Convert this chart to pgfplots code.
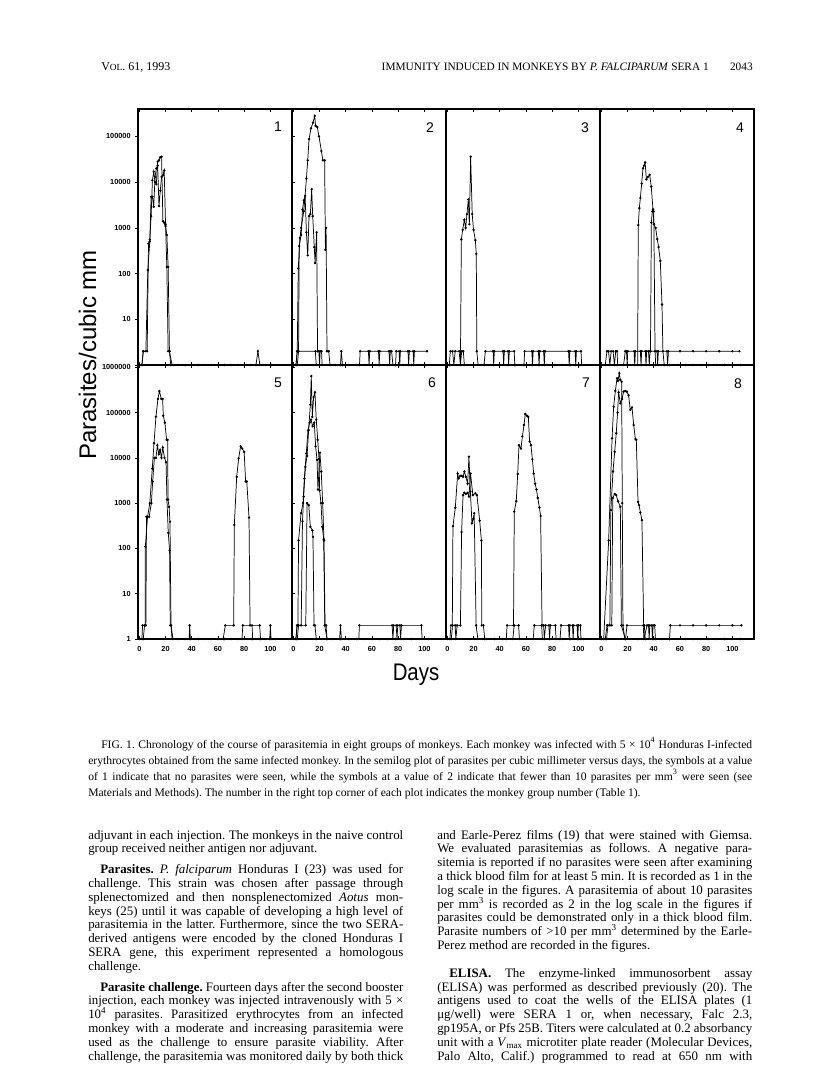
\documentclass[border=0pt]{standalone}
\usepackage{fontspec}
\setmainfont{Liberation Serif}
\setsansfont{Liberation Sans}
\usepackage{graphicx}
\usepackage{pgfplots}
\pgfplotsset{compat=1.18}
\frenchspacing

\newcommand\tl[1]{\textsf{\bfseries\fontsize{5.5}{6}\selectfont #1}}
\newlength\tmpw
\newcommand\jl[2]{\settowidth\tmpw{#2}\ifdim\tmpw>#1\relax\resizebox{#1}{\height}{#2}\else\hbox to #1{#2}\fi}
\newcommand\body{\fontsize{9.7}{11}\selectfont}
\newcommand\capt{\fontsize{8.7}{10}\selectfont}

\pgfplotscreateplotcyclelist{mono}{black,mark=*,mark size=0.6pt,line width=0.55pt,mark options={solid,fill=black}\\}

\pgfplotsset{
  monkeypanel/.style={
    scale only axis, width=115.5pt, anchor=north west,
    xmin=-1, xmax=116.5, ymin=1,
    axis line style={line width=0.8pt},
    xtick={0,20,40,60,80,100}, xticklabels={},
    ytick={1,10,100,1000,10000,100000,1000000}, yticklabels={},
    xminorticks=false, yminorticks=false,
    tick align=inside, major tick length=2pt,
    tick style={black, line width=0.4pt},
    cycle list name=mono,
    xticklabel style={yshift=-2pt},
  },
  upperrow/.style={height=192pt, ymax=398107},
  lowerrow/.style={height=205.5pt, ymax=1122018,
    xticklabels={\tl{0},\tl{20},\tl{40},\tl{60},\tl{80},\tl{100}}},
}

\begin{document}
\begin{tikzpicture}
\path[use as bounding box] (0,0) rectangle (612pt,-810.75pt);

% ---------- row 1 ----------
\begin{semilogyaxis}[monkeypanel, upperrow, at={(103.5pt,-81.75pt)}, ytick align=outside,
  yticklabels={,\tl{10},\tl{100},\tl{1000},\tl{10000},\tl{100000}}]
\addplot coordinates {(0,1)(2,1)(3,2)(6,2)(7,450)(8,550)(9,1800)(10,11000)(11,17000)(12,10000)(13,9000)(14,28000)(15,30000)(16,35000)(17,36000)(18,1400)(19,1300)(20,1100)(21,700)(22,140)(23,2)(24,1)(26,1)(30,1)(35,1)(40,1)(45,1)(50,1)(55,1)(60,1)(65,1)(70,1)(75,1)(80,1)(85,1)(89,1)(90.5,2)(92,1)(96,1)(101,1)};
\addplot coordinates {(2,1)(3,2)(5,2)(6.5,120)(8,500)(9,4800)(10,4800)(11,2900)(12,13000)(13,20000)(14,23000)(15,3000)(16,6500)(17,13000)(18,14000)(19,18000)(20,1200)(21,140)(22,2)(23,2)(25,1)};
\end{semilogyaxis}

\begin{semilogyaxis}[monkeypanel, upperrow, at={(219pt,-81.75pt)}, ytick=\empty]
\addplot coordinates {(0,1)(2,1)(3,2)(3.8,130)(5,600)(6,1000)(8,2300)(10,12000)(11,30000)(12,87000)(13.5,150000)(15,200000)(16.3,280000)(17,170000)(18.3,160000)(19.6,100000)(21.4,48000)(22.6,30000)(23.9,30000)(24.5,330)(25,1000)(25.7,2)(27,2)(28,1)(32,1)(36,1)(36.6,2)(37.5,1)(42,1)(48,1)(54,1)(60,1)(66,1)(72,1)(78,1)(84,1)(90,1)(96,1)(101,1)};
\addplot coordinates {(3,1)(4,2)(4.5,400)(6,700)(7,2500)(8,4000)(9,5000)(10,800)(11,250)(12,1800)(13,2000)(14,7000)(14.8,1800)(16,380)(16.6,170)(17.8,800)(18.5,2)(19.5,2)(20,1)(20.5,2)(21.5,2)(22,1)};
\addplot coordinates {(2,1)(3,2)(16.8,2)(17.5,1)(50.5,1)(51,2)(57.3,2)(57.8,1)(58.3,2)(65,2)(65.5,1)(66,2)(73,2)(73.5,1)(74,2)(75,2)(76,1)(78,1)(78.5,2)(80.7,2)(81.2,1)(81.7,2)(87.5,2)(88,1)(88.5,2)(91.4,2)(91.9,1)(92.4,2)(102,2)};
\end{semilogyaxis}

\begin{semilogyaxis}[monkeypanel, upperrow, at={(334.5pt,-81.75pt)}, ytick=\empty]
\addplot coordinates {(0,1)(2,1)(10,1)(10.7,560)(11.7,900)(13,1500)(14,1000)(15,2000)(16,4200)(16.8,1200)(17.8,36000)(19,2000)(20,900)(21.4,540)(22.1,270)(22.5,2)(23.5,1)(28,1)(34,1)(40,1)(46,1)(52,1)(58,1)(64,1)(70,1)(76,1)(82,1)(88,1)(94,1)(101,1)};
\addplot coordinates {(1.5,1)(2.3,2)(4,2)(5,1)(6,2)(9,2)(10,1)(11,2)(12.2,2)(13,1)};
\addplot coordinates {(28,1)(29,2)(34.9,2)(35.4,1)(35.9,2)(42.5,2)(43,1)(43.5,2)(46.3,2)(46.8,1)(47.3,2)(51,2)(51.5,1)};
\addplot coordinates {(58.5,1)(59,2)(64.5,2)(65,1)(65.5,2)(69.5,2)(70,1)(70.5,2)(73.5,2)(74,1)(74.5,2)(92.5,2)(93,1)(93.5,2)(97.5,2)(98,1)(98.5,2)(102,2)(102.5,1)};
\end{semilogyaxis}

\begin{semilogyaxis}[monkeypanel, upperrow, at={(450pt,-81.75pt)}, ytick=\empty]
\addplot coordinates {(0,1)(10,1)(20,1)(27.7,1)(28.2,1150)(29,2700)(29.8,4500)(30.8,9300)(31.8,20000)(32.6,23000)(33.4,27000)(34.4,11500)(35.6,13000)(36.9,14500)(38.1,8000)(39.4,2550)(40.2,1200)(41.4,1000)(42.7,570)(43.7,380)(45,190)(46.3,21)(47,2)(48,1)(52,1)(58,1)(64,1)(70,1)(76,1)(82,1)(88,1)(94,1)(100,1)(106,1)};
\addplot coordinates {(3,1)(4.3,2)(5.5,2)(6.5,1)(7.5,2)(9,2)(10,1)(11,2)(12,2)(12.5,1)};
\addplot coordinates {(17,1)(18.3,2)(19.2,2)(19.7,1)(20.2,2)(25,2)(25.5,1)(26,2)(29.8,2)(30.3,1)(30.8,2)(33.6,2)(34.1,1)(34.6,2)(36,2)(36.6,1)(37.2,2)(42.5,2)(43,1)(43.5,2)(50,2)(50.6,1)(51.2,2)(60,2)(70,2)(80,2)(90,2)(100,2)(105.3,2)};
\addplot coordinates {(37.5,2)(38.2,1300)(38.9,2300)(40,2300)(41,2)(41.5,1)};
\end{semilogyaxis}

% ---------- row 2 ----------
\begin{semilogyaxis}[monkeypanel, lowerrow, at={(103.5pt,-273.75pt)}, ytick align=outside,
  yticklabels={\tl{1},\tl{10},\tl{100},\tl{1000},\tl{10000},\tl{100000},\tl{1000000}}]
\addplot coordinates {(0,1)(2,1)(2.5,2)(4.5,2)(4.6,110)(6.3,500)(8,1000)(9.9,5800)(11.2,21000)(12.7,81000)(14.2,200000)(15.3,297000)(16.8,200000)(17.8,200000)(18.3,85000)(19.5,60000)(20.8,25000)(21.6,25000)(21.9,1200)(22.7,830)(23.4,390)(24.2,2)(25.7,1)(30,1)(35,1)(38,1)(38.4,2)(39,1)(45,1)(50,1)(55,1)(60,1)(65,1)(70,1)(75,1)(80,1)(86,1)(92,1)(96,1)(99.5,1)(100,2)(100.5,1)(104,1)};
\addplot coordinates {(3,1)(4,2)(5,2)(5.5,500)(7.5,500)(9.2,1000)(10.2,3000)(11.5,10000)(12.7,10000)(13.8,19000)(14.9,12000)(15.9,15000)(16.9,10000)(17.9,17000)(19.2,10000)(20.4,8000)(21.1,1200)(22.1,220)(23.1,90)(23.6,2)(24.2,2)(25,1)};
\addplot coordinates {(64,1)(65.6,2)(72,2)(72.5,330)(74.3,3800)(75.8,9800)(77.3,18000)(78.5,16000)(80,13500)(81.1,3000)(82,3000)(83.7,480)(84.5,2)(91.8,2)(92.5,1)};
\addplot coordinates {(78.3,1)(79,2)(86,2)(86.5,1)};
\end{semilogyaxis}

\begin{semilogyaxis}[monkeypanel, lowerrow, at={(219pt,-273.75pt)}, ytick=\empty]
\addplot coordinates {(0,1)(2,1)(2.8,2)(6,2)(7,400)(7.9,1400)(9.2,6300)(10.5,11000)(11.7,41000)(13,150000)(13.7,640000)(14.5,80000)(15.5,220000)(16.5,280000)(17.5,70000)(18.6,25000)(19.6,9500)(20.1,1900)(21.1,1000)(22.1,300)(23.2,160)(24,2)(25.7,1)(30,1)(36,1)(42,1)(48,1)(54,1)(60,1)(66,1)(72,1)(78,1)(84,1)(90,1)(96,1)(103,1)};
\addplot coordinates {(2,1)(3,2)(3.5,2)(4,150)(5.9,600)(7.4,1000)(8.4,3500)(9.9,12600)(11.2,40000)(12.5,60000)(13.5,70000)(14.7,50000)(16,60000)(17,18000)(18.1,9000)(18.8,2000)(20.3,13000)(21.3,5000)(22.4,1000)(23.4,150)(24.2,2)(25,2)(25.7,1)(35.3,1)(36,2)(36.7,1)(50,1)(50.4,2)(75.4,2)(76,1)(76.6,2)(78.5,2)(79.1,1)(79.7,2)(81.3,2)(81.9,1)(82.5,2)(97.7,2)(98.3,1)};
\addplot coordinates {(3,1)(4,2)(9.5,2)(10.5,1000)(11.8,900)(13,300)(14.6,250)(15,180)(15.8,2)(16.5,2)(17.5,1)};
\end{semilogyaxis}

\begin{semilogyaxis}[monkeypanel, lowerrow, at={(334.5pt,-273.75pt)}, ytick=\empty]
\addplot coordinates {(0,1)(2,1)(2.8,2)(3.8,2)(4.3,310)(6.1,790)(7.9,4500)(8.6,3500)(9.9,4000)(10.9,4000)(12,3800)(13,5000)(14.2,3800)(15.5,2700)(16.5,10600)(17.6,1800)(18.8,360)(19.8,450)(20.5,600)(22,2)(23.3,1)(30,1)(36,1)(42,1)(45,1)(45.6,2)(50.5,2)(51.1,650)(52.6,1100)(53.7,4400)(54.7,19000)(56.2,16000)(57.3,30000)(58.5,53000)(59.5,93000)(60.8,85000)(61.8,80000)(62.8,23000)(63.8,19000)(64.9,9300)(65.9,4500)(67,2700)(68,2000)(69,1300)(70.3,800)(71.2,520)(72.3,2)(73.5,2)(74,1)(75,2)(77.5,2)(78,1)(78.6,2)(82.4,2)(83,1)(88,1)(94,1)(100,1)(104,1)};
\addplot coordinates {(3,1)(4,2)(6,2)(6.5,1)(7.5,2)(10,2)(10.9,230)(12,1500)(13,1700)(14.2,1600)(15.5,1700)(16.5,1400)(17.7,4500)(19.5,1500)(21.4,1650)(22.6,1500)(24.7,410)(26,150)(26.3,2)(27.5,2)(28.6,1)(86,1)(86.8,2)(92.5,2)(93,1)(93.5,2)(95.5,2)(96,1)(96.5,2)(99,2)(99.5,1)(100,2)(101.5,2)(102,1)};
\addplot coordinates {(50,1)(51,2)(54.4,2)(55,1)(65.5,1)(66.4,2)(72,2)(72.5,1)};
\end{semilogyaxis}

\begin{semilogyaxis}[monkeypanel, lowerrow, at={(450pt,-273.75pt)}, ytick=\empty]
\addplot coordinates {(0,1)(1.8,1)(5.6,150)(8.2,27000)(9.4,134000)(10.7,300000)(12,570000)(12.7,500000)(13.7,740000)(14.4,530000)(15.5,480000)(16,1000)(16.5,2)(18,1)(22,1)(28,1)(34,1)(40,1)(46,1)(52,1)(58,1)(64,1)(70,1)(76,1)(82,1)(88,1)(94,1)(100,1)(106,1)};
\addplot coordinates {(3,1)(4.4,2)(6.5,2)(7.3,700)(8.9,5000)(10.2,13600)(11.4,35000)(12.4,100000)(13.2,280000)(14.5,160000)(15.8,200000)(17,290000)(18.3,300000)(19.5,290000)(20.8,240000)(22.1,115000)(23.4,130000)(24.7,53000)(26,26000)(26.7,25000)(28,1070)(28.8,900)(29.8,620)(31,420)(32.3,2)(32.8,2)(33.5,1)};
\addplot coordinates {(4,1)(5,2)(8,2)(8.7,1300)(10.2,1600)(11.4,1500)(12.7,1100)(14.5,830)(15.3,2)(18.3,1)};
\addplot coordinates {(18.5,1)(19.6,2)(32,2)(32.5,1)(34.9,2)(36,2)(36.5,1)(37,2)(38.5,2)(39,1)(39.5,2)(40.7,2)(41.3,1)};
\addplot coordinates {(52,1)(52.7,2)(60,2)(70,2)(80,2)(90,2)(100,2)(106.9,2)};
\end{semilogyaxis}

% ---------- texts, in page pixels ----------
\begin{scope}[x=0.75pt, y=-0.75pt]
\node[anchor=base west, inner sep=0pt] at (101,70) {\fontsize{9}{9}\selectfont V{\fontsize{7}{7}\selectfont OL}. 61, 1993};
\node[anchor=base east, inner sep=0pt] at (709,70) {\fontsize{8.5}{9}\selectfont IMMUNITY INDUCED IN MONKEYS BY \textit{P. FALCIPARUM} SERA 1};
\node[anchor=base east, inner sep=0pt] at (753,70) {\fontsize{8.5}{9}\selectfont 2043};

\foreach \n/\px/\py in {1/278/127, 2/430/128, 3/585/128, 4/740/128, 5/278/383, 6/432/383, 7/586/383, 8/738/384}
  \node[font=\sffamily\fontsize{10.5}{11}\selectfont] at (\px,\py) {\n};

\node[rotate=90, anchor=base, font=\sffamily\fontsize{18}{18}\selectfont] at (96,355) {Parasites/cubic mm};
\node[font=\sffamily\fontsize{18}{18}\selectfont] at (416,675) {\scalebox{0.85}[1]{Days}};

\begin{scope}[every node/.style={anchor=base west, inner sep=0pt, font=\capt}]
\node at (101,748) {\jl{488.25pt}{FIG. 1. Chronology of the course of parasitemia in eight groups of monkeys. Each monkey was infected with 5 × 10\textsuperscript{4} Honduras I-infected}};
\node at (88,764) {\jl{498pt}{erythrocytes obtained from the same infected monkey. In the semilog plot of parasites per cubic millimeter versus days, the symbols at a value}};
\node at (88,780) {\jl{498pt}{of 1 indicate that no parasites were seen, while the symbols at a value of 2 indicate that fewer than 10 parasites per mm\textsuperscript{3} were seen (see}};
\node at (88,796) {Materials and Methods). The number in the right top corner of each plot indicates the monkey group number (Table 1).};
\end{scope}

\begin{scope}[every node/.style={anchor=base west, inner sep=0pt, font=\body}]
% left column
\node at (88,839) {\jl{236.25pt}{adjuvant in each injection. The monkeys in the naive control}};
\node at (88,852.8) {group received neither antigen nor adjuvant.};
\node at (100,873.6) {\jl{227.25pt}{\textbf{Parasites.} \textit{P. falciparum} Honduras I (23) was used for}};
\node at (88,887.4) {\jl{236.25pt}{challenge. This strain was chosen after passage through}};
\node at (88,901.2) {\jl{236.25pt}{splenectomized and then nonsplenectomized \textit{Aotus} mon-}};
\node at (88,915) {\jl{236.25pt}{keys (25) until it was capable of developing a high level of}};
\node at (88,928.8) {\jl{236.25pt}{parasitemia in the latter. Furthermore, since the two SERA-}};
\node at (88,942.6) {\jl{236.25pt}{derived antigens were encoded by the cloned Honduras I}};
\node at (88,956.4) {\jl{236.25pt}{SERA gene, this experiment represented a homologous}};
\node at (88,970.2) {challenge.};
\node at (100,991) {\jl{227.25pt}{\textbf{Parasite challenge.} Fourteen days after the second booster}};
\node at (88,1004.8) {\jl{236.25pt}{injection, each monkey was injected intravenously with 5 ×}};
\node at (88,1018.6) {\jl{236.25pt}{10\textsuperscript{4} parasites. Parasitized erythrocytes from an infected}};
\node at (88,1032.4) {\jl{236.25pt}{monkey with a moderate and increasing parasitemia were}};
\node at (88,1046.2) {\jl{236.25pt}{used as the challenge to ensure parasite viability. After}};
\node at (88,1060) {\jl{236.25pt}{challenge, the parasitemia was monitored daily by both thick}};
% right column
\node at (437,839) {\jl{236.25pt}{and Earle-Perez films (19) that were stained with Giemsa.}};
\node at (437,852.8) {\jl{236.25pt}{We evaluated parasitemias as follows. A negative para-}};
\node at (437,866.6) {\jl{236.25pt}{sitemia is reported if no parasites were seen after examining}};
\node at (437,880.4) {\jl{236.25pt}{a thick blood film for at least 5 min. It is recorded as 1 in the}};
\node at (437,894.2) {\jl{236.25pt}{log scale in the figures. A parasitemia of about 10 parasites}};
\node at (437,908) {\jl{236.25pt}{per mm\textsuperscript{3} is recorded as 2 in the log scale in the figures if}};
\node at (437,921.8) {\jl{236.25pt}{parasites could be demonstrated only in a thick blood film.}};
\node at (437,935.6) {\jl{236.25pt}{Parasite numbers of >10 per mm\textsuperscript{3} determined by the Earle-}};
\node at (437,949.4) {Perez method are recorded in the figures.};
\node at (449,977.2) {\jl{227.25pt}{\textbf{ELISA.} The enzyme-linked immunosorbent assay}};
\node at (437,991) {\jl{236.25pt}{(ELISA) was performed as described previously (20). The}};
\node at (437,1004.8) {\jl{236.25pt}{antigens used to coat the wells of the ELISA plates (1}};
\node at (437,1018.6) {\jl{236.25pt}{μg/well) were SERA 1 or, when necessary, Falc 2.3,}};
\node at (437,1032.4) {\jl{236.25pt}{gp195A, or Pfs 25B. Titers were calculated at 0.2 absorbancy}};
\node at (437,1046.2) {\jl{236.25pt}{unit with a \textit{V}\textsubscript{max} microtiter plate reader (Molecular Devices,}};
\node at (437,1060) {\jl{236.25pt}{Palo Alto, Calif.) programmed to read at 650 nm with}};
\end{scope}
\end{scope}
\end{tikzpicture}
\end{document}
